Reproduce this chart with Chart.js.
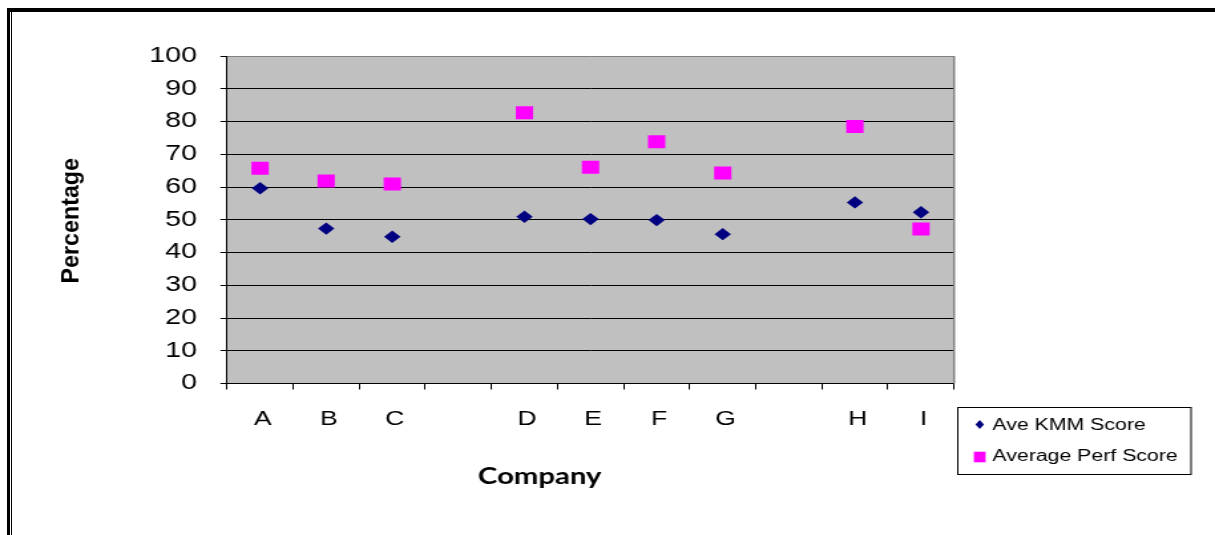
<!DOCTYPE html>
<html>
<head>
<meta charset="utf-8">
<title>Ave KMM Score vs Average Perf Score</title>
<script src="https://cdn.jsdelivr.net/npm/chart.js@4.4.1/dist/chart.umd.min.js"></script>
<style>
  html, body { margin: 0; padding: 0; background: #fff; overflow: hidden; }
  #page { position: relative; width: 1215px; height: 535px; overflow: hidden; background: #fff; }
  /* the drawing is laid out on a narrower canvas and widened to the page */
  #stage { position: absolute; left: 0; top: 0; width: 914px; height: 535px;
           transform-origin: 0 0; transform: scaleX(1.32932); }
  #c { display: block; width: 914px; height: 535px; }
  .rule { position: absolute; background: #000; }
</style>
</head>
<body>
<div id="page">
  <div id="stage"><canvas id="c" width="914" height="535"></canvas></div>
  <div class="rule" style="left:7px;top:8px;width:1208px;height:4px"></div>
  <div class="rule" style="left:7px;top:8px;width:3px;height:527px"></div>
  <div class="rule" style="left:11px;top:12px;width:1px;height:523px"></div>
</div>
<script>
// Companies (blank slots separate the groups)
const companies = ['A', 'B', 'C', '', 'D', 'E', 'F', 'G', '', 'H', 'I'];

// Scores in percent
const aveKmmScore = [59.6, 47.3, 44.8, null, 50.9, 50.2, 49.9, 45.6, null, 55.3, 52.3];
const averagePerfScore = [65.7, 61.8, 60.9, null, 82.7, 66.0, 73.8, 64.3, null, 78.5, 47.2];

const seriesNames = ['Ave KMM Score', 'Average Perf Score'];
const yTicks = { min: 0, max: 100, step: 10 };

const STRETCH = 1215 / 914;
const NAVY = '#000080';
const MAGENTA = '#FF00FF';

// grey plot area and its right-hand frame
const plotFrame = {
  id: 'plotFrame',
  beforeDraw(chart) {
    const { ctx, chartArea: a } = chart;
    ctx.save();
    ctx.fillStyle = '#ffffff';
    ctx.fillRect(0, 0, chart.width, chart.height);
    ctx.fillStyle = '#C0C0C0';
    ctx.fillRect(a.left, a.top, a.right - a.left, a.bottom - a.top);
    ctx.restore();
  },
  afterDatasetsDraw(chart) {
    const { ctx, chartArea: a } = chart;
    ctx.save();
    ctx.strokeStyle = '#808080';
    ctx.lineWidth = 1.5;
    ctx.beginPath();
    ctx.moveTo(a.right, a.top);
    ctx.lineTo(a.right, a.bottom);
    ctx.stroke();
    ctx.restore();
  }
};

// axis captions
const axisCaptions = {
  id: 'axisCaptions',
  afterDraw(chart) {
    const { ctx, chartArea: a } = chart;
    ctx.save();
    ctx.fillStyle = '#000';
    // horizontal caption
    ctx.font = 'bold 22px Lato, "Open Sans", sans-serif';
    ctx.textAlign = 'center';
    ctx.textBaseline = 'alphabetic';
    ctx.fillText('Company', a.left + 0.43 * (a.right - a.left), 484);
    // vertical caption, lengthened along its reading direction
    const f = 17.5;
    ctx.translate(54.5, (a.top + a.bottom) / 2 + 1);
    ctx.scale(1, STRETCH);
    ctx.rotate(-Math.PI / 2);
    ctx.font = 'bold ' + f + 'px "Liberation Sans", Arial, sans-serif';
    ctx.fillText('Percentage', 0, 0.253 * f);
    ctx.restore();
  }
};

// boxed legend below the right end of the plot
const boxedLegend = {
  id: 'boxedLegend',
  afterDraw(chart) {
    const ctx = chart.ctx;
    const box = { left: 720.5, top: 407.5, width: 175.5, height: 67 };
    const rowY = [426, 457];
    ctx.save();
    ctx.strokeStyle = '#000';
    ctx.lineWidth = 1;
    ctx.strokeRect(box.left, box.top, box.width, box.height);
    chart.data.datasets.forEach((ds, i) => {
      const y = rowY[i];
      const x = 737;
      ctx.fillStyle = ds.backgroundColor;
      ctx.beginPath();
      if (ds.pointStyle === 'rectRot') {
        ctx.moveTo(x - 3.2, y - 1.5);
        ctx.lineTo(x, y - 6);
        ctx.lineTo(x + 3.2, y - 1.5);
        ctx.lineTo(x, y + 3);
        ctx.closePath();
      } else {
        ctx.rect(x - 4.4, y - 5.3, 8.8, 10.6);
      }
      ctx.fill();
      ctx.fillStyle = '#000';
      ctx.font = '16px "Liberation Sans", Arial, sans-serif';
      ctx.textAlign = 'left';
      ctx.textBaseline = 'middle';
      ctx.fillText(ds.label, 746.6, y);
    });
    ctx.restore();
  }
};

new Chart(document.getElementById('c'), {
  type: 'line',
  data: {
    labels: companies,
    datasets: [
      {
        label: seriesNames[0],
        data: aveKmmScore,
        showLine: false,
        pointStyle: 'rectRot',
        pointRadius: 6.2,
        pointBorderWidth: 0,
        backgroundColor: NAVY,
        borderColor: NAVY
      },
      {
        label: seriesNames[1],
        data: averagePerfScore,
        showLine: false,
        pointStyle: 'rect',
        pointRadius: 9.2,
        pointBorderWidth: 0,
        backgroundColor: MAGENTA,
        borderColor: MAGENTA
      }
    ]
  },
  options: {
    responsive: false,
    animation: false,
    events: [],
    devicePixelRatio: 1,
    layout: { padding: { top: 56, right: 196.3, bottom: 0, left: 0 } },
    plugins: {
      legend: { display: false },
      tooltip: { enabled: false },
      title: { display: false }
    },
    scales: {
      x: {
        type: 'category',
        offset: true,
        afterFit(scale) { scale.height = 151.5; },
        grid: {
          display: true,
          offset: true,
          drawOnChartArea: false,
          drawTicks: true,
          tickLength: 6,
          color: '#000',
          lineWidth: 1
        },
        border: { display: true, color: '#000', width: 1 },
        ticks: {
          color: '#000',
          padding: 17.5,
          labelOffset: 2,
          autoSkip: false,
          maxRotation: 0,
          font: { family: '"Liberation Sans", Arial, sans-serif', size: 20 }
        },
        title: { display: false }
      },
      y: {
        min: yTicks.min,
        max: yTicks.max,
        afterFit(scale) { scale.width = 170.8; },
        grid: {
          display: true,
          drawTicks: true,
          tickLength: 5,
          color: (c) => (c.tick && c.tick.value === yTicks.max ? '#808080' : '#000'),
          tickColor: '#000',
          lineWidth: 1
        },
        border: { display: true, color: '#000', width: 1 },
        ticks: {
          stepSize: yTicks.step,
          color: '#000',
          padding: 17.6,
          font: { family: '"Liberation Sans", Arial, sans-serif', size: 21.5 }
        },
        title: { display: false }
      }
    }
  },
  plugins: [plotFrame, axisCaptions, boxedLegend]
});
</script>
</body>
</html>
